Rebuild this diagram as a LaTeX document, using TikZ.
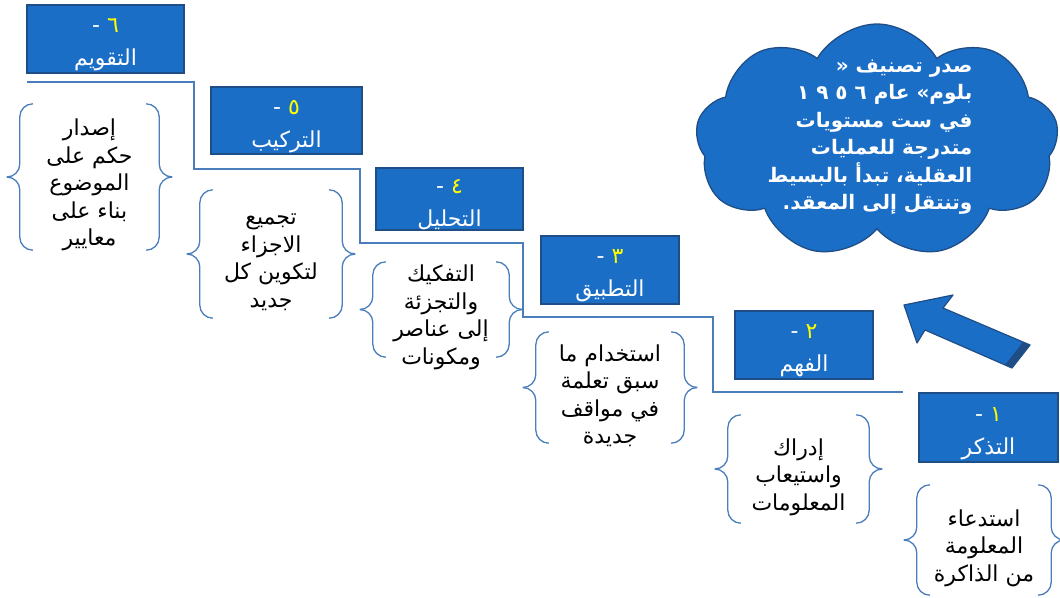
\documentclass[tikz,border=0pt]{standalone}
\usepackage{fontspec}
\newfontfamily\arabicfont[Script=Arabic]{DejaVu Sans}
\TeXXeTstate=1
\usetikzlibrary{shapes.symbols}

\definecolor{boxblue}{HTML}{1B6EC6}
\definecolor{boxedge}{HTML}{1F4E86}
\definecolor{linkblue}{HTML}{4A7EBB}
\definecolor{numyellow}{HTML}{FFFF00}

\tikzset{
  levelbox/.style={draw=boxedge, line width=1.2pt, fill=boxblue, inner sep=0pt},
  leveltext/.style={text=white, align=center, inner sep=0pt, yshift=-6pt,
    font=\arabicfont\fontsize{22}{33}\selectfont},
  bracebox/.style={inner sep=0pt},
  notetext/.style={align=center, inner sep=0pt, yshift=-8pt,
    font=\arabicfont\fontsize{22}{27.5}\selectfont},
  bracepen/.style={draw=linkblue, line width=1.3pt, rounded corners=13pt},
  stairline/.style={draw=linkblue, line width=1.3pt},
  cloudshape/.style={cloud, cloud puffs=9, cloud puff arc=120, cloud ignores aspect,
    draw=boxedge, line width=1.3pt, fill=boxblue, inner sep=0pt},
  cloudtext/.style={text=white, align=right, inner sep=0pt,
    font=\arabicfont\bfseries\fontsize{20}{27.5}\selectfont},
  bigarrow/.style={draw=boxedge, line width=1.2pt, fill=boxblue, line join=round}
}

% curly brackets on both sides of a note
\newcommand\bracepair[1]{%
  \draw[bracepen] ([xshift=26pt]#1.north west) -- ([xshift=13pt]#1.north west)
    -- ([xshift=13pt]#1.west) -- (#1.west);
  \draw[bracepen] (#1.west) -- ([xshift=13pt]#1.west)
    -- ([xshift=13pt]#1.south west) -- ([xshift=26pt]#1.south west);
  \draw[bracepen] ([xshift=-26pt]#1.north east) -- ([xshift=-13pt]#1.north east)
    -- ([xshift=-13pt]#1.east) -- (#1.east);
  \draw[bracepen] (#1.east) -- ([xshift=-13pt]#1.east)
    -- ([xshift=-13pt]#1.south east) -- ([xshift=-26pt]#1.south east);
}

\begin{document}
\begin{tikzpicture}[x=1pt, y=-1pt]
  \useasboundingbox (0,0) rectangle (1060,597);

  % Stair line
  \draw[stairline] (27,82) -| (194,169) -| (360,243) -| (523,317) -| (713,392) -- (903,392);

  % Level boxes
  \node[levelbox, minimum width=157, minimum height=68,
    label={[leveltext]center:{-\ {\color{numyellow}٦}\\\beginR التقويم\endR}}] (b6) at (105.5,39) {};
  \node[levelbox, minimum width=151, minimum height=67,
    label={[leveltext]center:{-\ {\color{numyellow}٥}\\\beginR التركيب\endR}}] (b5) at (286.5,120.5) {};
  \node[levelbox, minimum width=147, minimum height=62,
    label={[leveltext]center:{-\ {\color{numyellow}٤}\\\beginR التحليل\endR}}] (b4) at (449.5,199) {};
  \node[levelbox, minimum width=138, minimum height=68,
    label={[leveltext]center:{-\ {\color{numyellow}٣}\\\beginR التطبيق\endR}}] (b3) at (610,270) {};
  \node[levelbox, minimum width=138, minimum height=68,
    label={[leveltext]center:{-\ {\color{numyellow}٢}\\\beginR الفهم\endR}}] (b2) at (804,345) {};
  \node[levelbox, minimum width=139, minimum height=69,
    label={[leveltext]center:{-\ {\color{numyellow}١}\\\beginR التذكر\endR}}] (b1) at (988.5,427.5) {};

  % Notes in braces
  \node[bracebox, minimum width=165, minimum height=146,
    label={[notetext]center:{\beginR إصدار\endR\\\beginR حكم على\endR\\\beginR الموضوع\endR\\\beginR بناء على\endR\\\beginR معايير\endR}}] (t6) at (89.5,177) {};
  \node[bracebox, minimum width=168, minimum height=128,
    label={[notetext]center:{\beginR تجميع\endR\\\beginR الاجزاء\endR\\\beginR لتكوين كل\endR\\\beginR جديد\endR}}] (t5) at (271,254) {};
  \node[bracebox, minimum width=162, minimum height=95,
    label={[notetext]center:{\beginR التفكيك\endR\\\beginR والتجزئة\endR\\\beginR إلى عناصر\endR\\\beginR ومكونات\endR}}] (t4) at (441,309.5) {};
  \node[bracebox, minimum width=174, minimum height=111,
    label={[notetext]center:{\beginR استخدام ما\endR\\\beginR سبق تعلمة\endR\\\beginR في مواقف\endR\\\beginR جديدة\endR}}] (t3) at (610,387.5) {};
  \node[bracebox, minimum width=167, minimum height=108,
    label={[notetext]center:{\beginR إدراك\endR\\\beginR واستيعاب\endR\\\beginR المعلومات\endR}}] (t2) at (798.5,469) {};
  \node[bracebox, minimum width=160, minimum height=110,
    label={[notetext]center:{\beginR استدعاء\endR\\\beginR المعلومة\endR\\\beginR من الذاكرة\endR}}] (t1) at (984,540) {};
  \bracepair{t6}
  \bracepair{t5}
  \bracepair{t4}
  \bracepair{t3}
  \bracepair{t2}
  \bracepair{t1}

  % Cloud
  \node[cloudshape, minimum width=363, minimum height=234] (cloud) at (877,141) {};
  \node[cloudtext] (cloudnote) at (870,137)
    {\beginR صدر تصنيف «\endR\\\beginR بلوم» عام \beginL١ ٩ ٥ ٦\endL{}\endR\\\beginR في ست مستويات\endR\\\beginR متدرجة للعمليات\endR\\\beginR العقلية، تبدأ بالبسيط\endR\\\beginR وتنتقل إلى المعقد.\endR};

  % Block arrow
  \draw[bigarrow] (904,305) -- (953,295) -- (943,308) -- (1030,345) -- (1012,368)
    -- (925,330) -- (917,343) -- cycle;
  \fill[boxedge] (1030,345) -- (1012,368) -- (1005,365) -- (1023,342) -- cycle;

\end{tikzpicture}
\end{document}
